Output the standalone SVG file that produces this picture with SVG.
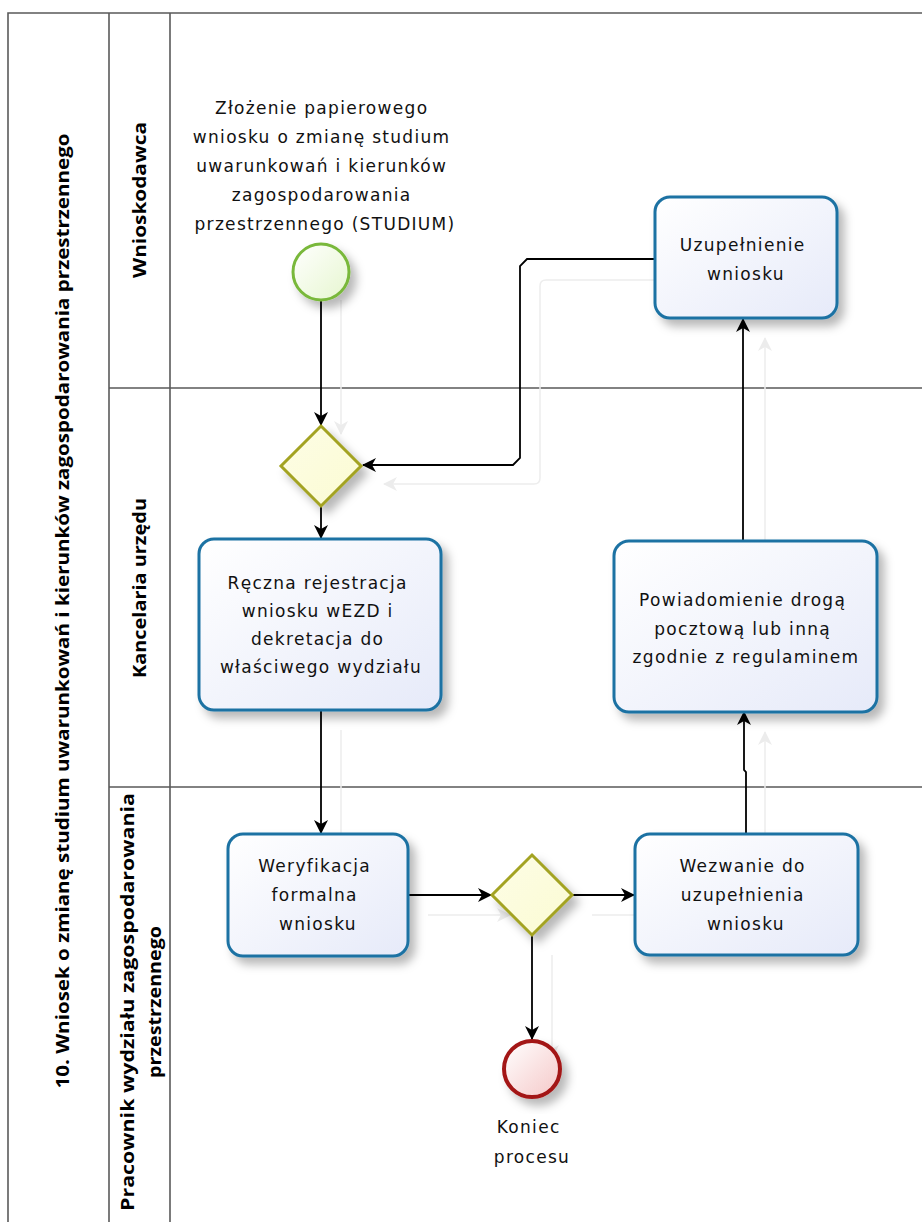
<svg xmlns="http://www.w3.org/2000/svg" width="922" height="1222" viewBox="0 0 922 1222">
  <defs>
    <style>
      .pool { fill: none; stroke: #5a5a5a; stroke-width: 1.6; }
      .hdr { font-family: "Open Sans", "DejaVu Sans", sans-serif; font-weight: bold; font-size: 18px; fill: #000; text-anchor: middle; }
      .lbl { font-family: "DejaVu Sans", "Open Sans", sans-serif; font-size: 17px; letter-spacing: 1.3px; fill: #111; text-anchor: middle; }
      .task { fill: url(#taskFill); stroke: #1d72a3; stroke-width: 3; filter: url(#shadow); }
      .gw { fill: url(#gwFill); stroke: #a3a322; stroke-width: 3; filter: url(#shadow); }
      .flow { fill: none; stroke: #000; stroke-width: 1.8; marker-end: url(#arrow); }
      .ghost { fill: none; stroke: #ededed; stroke-width: 1.5; marker-end: url(#ghostArrow); }
    </style>
    <linearGradient id="taskFill" x1="0" y1="0" x2="1" y2="1">
      <stop offset="0" stop-color="#ffffff"/>
      <stop offset="1" stop-color="#e6eaf9"/>
    </linearGradient>
    <linearGradient id="gwFill" x1="0" y1="0" x2="1" y2="1">
      <stop offset="0" stop-color="#fdfde6"/>
      <stop offset="1" stop-color="#fbfbd2"/>
    </linearGradient>
    <linearGradient id="startFill" x1="0" y1="0" x2="1" y2="1">
      <stop offset="0" stop-color="#ffffff"/>
      <stop offset="1" stop-color="#e6f6cf"/>
    </linearGradient>
    <linearGradient id="endFill" x1="0" y1="0" x2="1" y2="1">
      <stop offset="0" stop-color="#ffffff"/>
      <stop offset="1" stop-color="#f5c8c8"/>
    </linearGradient>
    <filter id="shadow" x="-20%" y="-20%" width="150%" height="150%">
      <feDropShadow dx="6" dy="7" stdDeviation="5" flood-color="#000" flood-opacity="0.28"/>
    </filter>
    <marker id="arrow" viewBox="0 0 14 14" refX="13" refY="7" markerWidth="14" markerHeight="14" markerUnits="userSpaceOnUse" orient="auto">
      <path d="M0,0 L14,7 L0,14 L4,7 z" fill="#000"/>
    </marker>
    <marker id="ghostArrow" viewBox="0 0 14 14" refX="13" refY="7" markerWidth="14" markerHeight="14" markerUnits="userSpaceOnUse" orient="auto">
      <path d="M0,0 L14,7 L0,14 L4,7 z" fill="#ececec"/>
    </marker>
  </defs>

  <rect width="922" height="1222" fill="#fff"/>

  <!-- pool and lanes -->
  <g id="pool">
    <path class="pool" d="M8,1222 V13 H922"/>
    <path class="pool" d="M109,13 V1222 M170,13 V1222"/>
    <path class="pool" d="M109,388 H922 M109,787 H922"/>
    <text class="hdr" transform="translate(69,611) rotate(-90)" textLength="955" lengthAdjust="spacingAndGlyphs">10. Wniosek o zmianę studium uwarunkowań i kierunków zagospodarowania przestrzennego</text>
  </g>
  <g id="lane-wnioskodawca">
    <text class="hdr" transform="translate(146,200) rotate(-90)" textLength="156" lengthAdjust="spacingAndGlyphs">Wnioskodawca</text>
  </g>
  <g id="lane-kancelaria">
    <text class="hdr" transform="translate(146,588) rotate(-90)" textLength="180" lengthAdjust="spacingAndGlyphs">Kancelaria urzędu</text>
  </g>
  <g id="lane-pracownik">
    <text class="hdr" transform="translate(134,1002) rotate(-90)" textLength="418" lengthAdjust="spacingAndGlyphs">Pracownik wydziału zagospodarowania</text>
    <text class="hdr" transform="translate(161,1002) rotate(-90)" textLength="152" lengthAdjust="spacingAndGlyphs">przestrzennego</text>
  </g>

  <!-- faint offset copy of the flows -->
  <g id="ghost-flows">
    <path class="ghost" d="M341,300 V434"/>
    <path class="ghost" d="M675,280 H546 Q540,280 540,286 V478 Q540,484 534,484 H384"/>
    <path class="ghost" d="M341,730 V852"/>
    <path class="ghost" d="M428,915 H510"/>
    <path class="ghost" d="M592,915 H653"/>
    <path class="ghost" d="M552,955 V1058"/>
    <path class="ghost" d="M765,854 V732"/>
    <path class="ghost" d="M765,561 V338"/>
  </g>

  <!-- sequence flows -->
  <g id="connectors">
    <path class="flow" d="M321,300 V425"/>
    <path class="flow" d="M655,259 H527 L520,266 V458 L513,465 H363"/>
    <path class="flow" d="M321,506 V538"/>
    <path class="flow" d="M321,710 V833"/>
    <path class="flow" d="M408,895 H491"/>
    <path class="flow" d="M572,895 H634"/>
    <path class="flow" d="M532,935 V1039"/>
    <path class="flow" d="M746,834 V772 L744,770 V712"/>
    <path class="flow" d="M743,541 V319"/>
  </g>

  <!-- nodes -->
  <g id="start">
    <circle cx="321" cy="272" r="28" fill="url(#startFill)" stroke="#79b83a" stroke-width="3" filter="url(#shadow)"/>
    <text class="lbl">
      <tspan x="325" y="114">Złożenie papierowego</tspan>
      <tspan x="325" y="143">wniosku  o zmianę studium</tspan>
      <tspan x="325" y="172">uwarunkowań i kierunków</tspan>
      <tspan x="325" y="201">zagospodarowania</tspan>
      <tspan x="325" y="230">przestrzennego (STUDIUM)</tspan>
    </text>
  </g>

  <g id="gateway-1">
    <path class="gw" d="M321,426 L361,466 L321,506 L281,466 z"/>
  </g>

  <g id="task-rejestracja">
    <rect class="task" x="199" y="539" width="242" height="171" rx="15"/>
    <text class="lbl">
      <tspan x="321" y="589">Ręczna rejestracja</tspan>
      <tspan x="321" y="617">wniosku wEZD i</tspan>
      <tspan x="321" y="645">dekretacja do</tspan>
      <tspan x="321" y="673">właściwego wydziału</tspan>
    </text>
  </g>

  <g id="task-uzupelnienie">
    <rect class="task" x="655" y="197" width="182" height="121" rx="15"/>
    <text class="lbl">
      <tspan x="746" y="251">Uzupełnienie</tspan>
      <tspan x="746" y="280">wniosku</tspan>
    </text>
  </g>

  <g id="task-powiadomienie">
    <rect class="task" x="614" y="541" width="263" height="171" rx="15"/>
    <text class="lbl">
      <tspan x="746" y="606">Powiadomienie drogą</tspan>
      <tspan x="746" y="635">pocztową lub inną</tspan>
      <tspan x="746" y="663">zgodnie z regulaminem</tspan>
    </text>
  </g>

  <g id="task-weryfikacja">
    <rect class="task" x="228" y="834" width="180" height="122" rx="15"/>
    <text class="lbl">
      <tspan x="318" y="872">Weryfikacja</tspan>
      <tspan x="318" y="901">formalna</tspan>
      <tspan x="318" y="930">wniosku</tspan>
    </text>
  </g>

  <g id="gateway-2">
    <path class="gw" d="M532,855 L572,895 L532,935 L492,895 z"/>
  </g>

  <g id="task-wezwanie">
    <rect class="task" x="635" y="834" width="223" height="121" rx="15"/>
    <text class="lbl">
      <tspan x="746" y="872">Wezwanie do</tspan>
      <tspan x="746" y="901">uzupełnienia</tspan>
      <tspan x="746" y="930">wniosku</tspan>
    </text>
  </g>

  <g id="end">
    <circle cx="532" cy="1069" r="28" fill="url(#endFill)" stroke="#a31515" stroke-width="4" filter="url(#shadow)"/>
    <text class="lbl">
      <tspan x="532" y="1133">Koniec</tspan>
      <tspan x="532" y="1163">procesu</tspan>
    </text>
  </g>
</svg>
